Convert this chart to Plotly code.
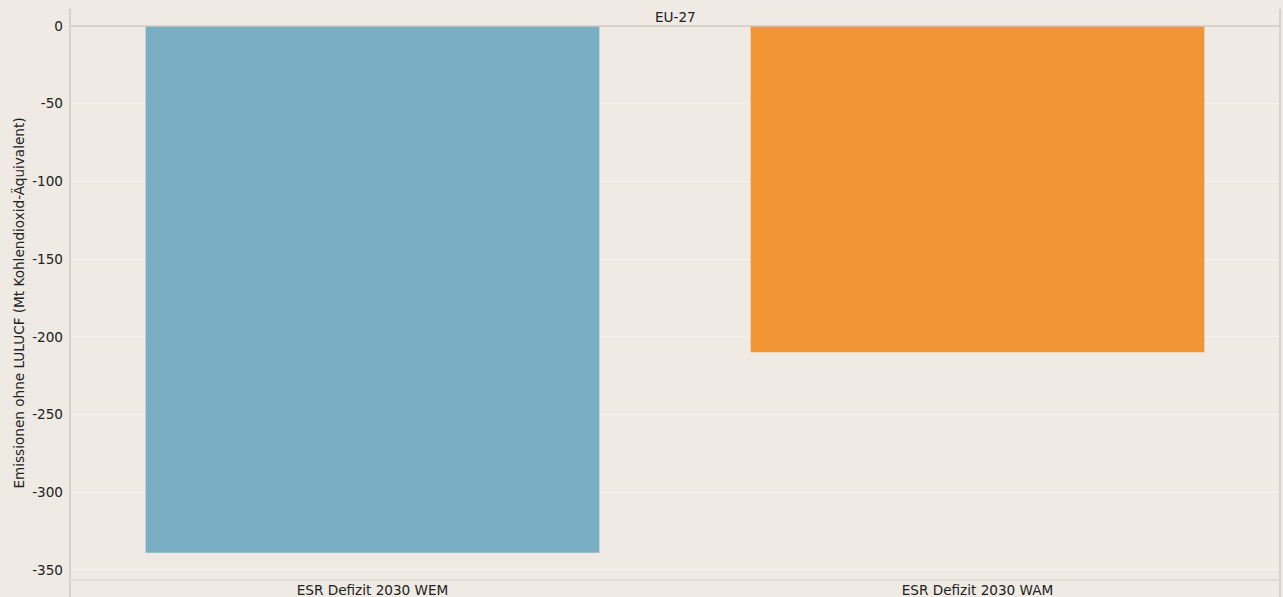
import plotly.graph_objects as go

# Data
categories = ["ESR Defizit 2030 WEM", "ESR Defizit 2030 WAM"]
values = [-339, -210]
bar_colors = ["#7aafc3", "#f29535"]
region = "EU-27"
y_title = "Emissionen ohne LULUCF (Mt Kohlendioxid-Äquivalent)"
y_ticks = [0, -50, -100, -150, -200, -250, -300, -350]

bg = "#efebe4"
line_col = "#cfcbc5"

fig = go.Figure()
fig.add_trace(go.Bar(x=categories, y=values,
                     marker=dict(color=bar_colors, line=dict(width=0)),
                     showlegend=False))

fig.update_layout(
    width=1283, height=597,
    margin=dict(l=70, r=3, t=26, b=17),
    paper_bgcolor=bg, plot_bgcolor=bg,
    font=dict(family="DejaVu Sans", size=13.6, color="#222222"),
    bargap=0.25,
)

fig.update_yaxes(
    range=[-356.5, 0], tickvals=y_ticks, ticktext=[str(v) for v in y_ticks],
    showgrid=True, gridcolor="#f6f3ee", gridwidth=1, zeroline=False,
    showline=False, ticks="", ticklabelstandoff=6, automargin=False,
    title=dict(text=y_title, standoff=4, font=dict(size=13.6)),
)
fig.update_xaxes(showgrid=False, zeroline=False, showline=False, ticks="",
                 ticklabelstandoff=0, automargin=False)

# frame lines (facet strip + panel)
shapes = [
    dict(type="line", xref="paper", yref="paper", x0=0, x1=0, y0=1.031, y1=-0.04,
         line=dict(color=line_col, width=1.5)),
    dict(type="line", xref="paper", yref="paper", x0=1, x1=1, y0=1.031, y1=-0.04,
         line=dict(color=line_col, width=1.5)),
    dict(type="line", xref="paper", yref="paper", x0=0, x1=1, y0=1, y1=1,
         line=dict(color=line_col, width=1.5)),
    dict(type="line", xref="paper", yref="paper", x0=0, x1=1, y0=0, y1=0,
         line=dict(color="#dcd8d0", width=1.5)),
]
fig.update_layout(shapes=shapes)

fig.add_annotation(text=region, xref="paper", yref="paper", x=0.5, y=1.016,
                   showarrow=False, yanchor="middle")

# page body has a default 8px margin; drop it so the figure sits at the window origin
fig.write_html("out.html", config={"displayModeBar": False},
               post_script="document.body.style.margin='0';")
